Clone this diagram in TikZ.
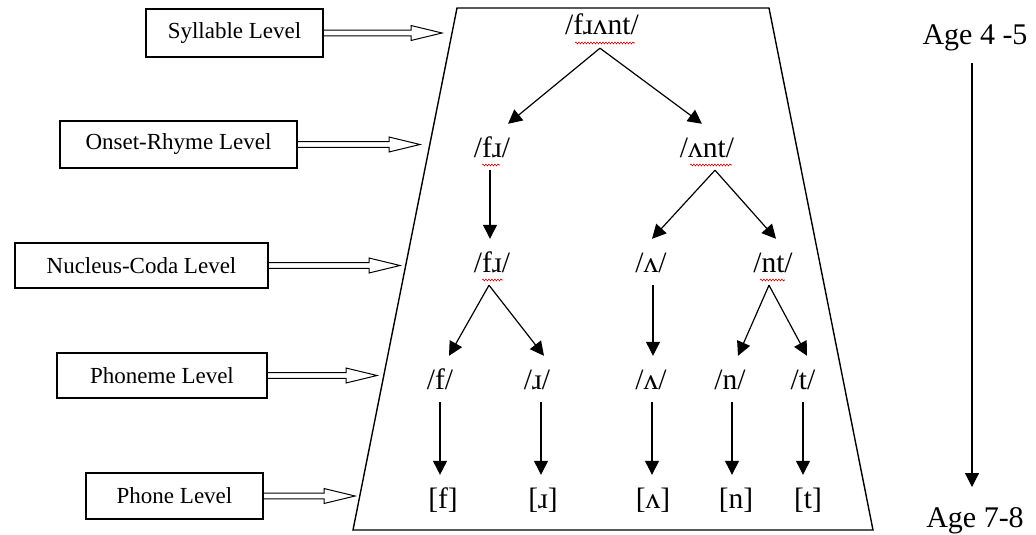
\documentclass[tikz,border=0pt]{standalone}
\usepackage{fontspec}
\setmainfont{Liberation Serif}
\usetikzlibrary{arrows.meta,calc,decorations.pathmorphing}
\begin{document}
\begin{tikzpicture}[x=1pt,y=-1pt,
  lvlbox/.style={draw, line width=1.2pt, inner sep=0pt, font=\fontsize{23}{25}\selectfont},
  tnode/.style={inner sep=0pt, anchor=base, text height=33pt, text depth=13pt, font=\fontsize{29.5}{30}\selectfont},
  agetxt/.style={inner sep=0pt, anchor=base, font=\fontsize{30}{32}\selectfont},
  tri/.style={line width=1.2pt, -{Triangle[length=14pt,width=14pt]}},
  harrow/.style={draw, line width=1pt, line join=miter},
  squig/.style={draw=red!80!black, line width=0.6pt, decorate, decoration={snake, amplitude=0.9pt, segment length=3pt}},
]
\useasboundingbox (0,0) rectangle (1036,535);

% trapezoid frame
\draw[line width=1.4pt] (457,8) -- (769,8) -- (873,530) -- (353,530) -- cycle;

% level boxes
\node[lvlbox, minimum width=177pt, minimum height=48pt] (L1) at (234.5,33) {Syllable Level};
\node[lvlbox, minimum width=237pt, minimum height=47pt] (L2) at (178.5,144.5) {Onset-Rhyme Level};
\node[lvlbox, minimum width=253pt, minimum height=45pt] (L3) at (141.5,265.5) {Nucleus-Coda Level};
\node[lvlbox, minimum width=210pt, minimum height=45pt] (L4) at (162,375.5) {Phoneme Level};
\node[lvlbox, minimum width=177pt, minimum height=46pt] (L5) at (174.5,496) {Phone Level};

\coordinate (T1) at (L1.east -| 442,0);
\coordinate (T2) at (L2.east -| 420,0);
\coordinate (T3) at (L3.east -| 400,0);
\coordinate (T4) at (L4.east -| 377,0);
\coordinate (T5) at (L5.east -| 355,0);

\foreach \b/\t in {L1/T1,L2/T2,L3/T3,L4/T4,L5/T5}{
  \draw[harrow] ([yshift=2.8pt]\b.east) -- ([xshift=-31pt,yshift=2.8pt]\t) -- ([xshift=-31pt,yshift=7.5pt]\t) -- (\t)
     -- ([xshift=-31pt,yshift=-7.5pt]\t) -- ([xshift=-31pt,yshift=-2.8pt]\t) -- ([yshift=-2.8pt]\b.east);
}

% tree nodes
\node[tnode] (n1) at (602,35) {/fɹʌnt/};
\node[tnode] (n2a) at (492,157) {/fɹ/};
\node[tnode] (n2b) at (707,157) {/ʌnt/};
\node[tnode] (n3a) at (492,272) {/fɹ/};
\node[tnode] (n3b) at (651,272) {/ʌ/};
\node[tnode] (n3c) at (773,272) {/nt/};
\node[tnode] (n4a) at (440,389) {/f/};
\node[tnode] (n4b) at (537,389) {/ɹ/};
\node[tnode] (n4c) at (651,389) {/ʌ/};
\node[tnode] (n4d) at (730,389) {/n/};
\node[tnode] (n4e) at (803,389) {/t/};
\node[tnode] (n5a) at (443,508) {[f]};
\node[tnode] (n5b) at (543,508) {[ɹ]};
\node[tnode] (n5c) at (653,508) {[ʌ]};
\node[tnode] (n5d) at (736,508) {[n]};
\node[tnode] (n5e) at (808,508) {[t]};

% spell-check squiggles
\draw[squig] ([xshift=-27pt,yshift=-8pt]n1.base) -- ([xshift=33pt,yshift=-8pt]n1.base);
\draw[squig] ([xshift=-10pt,yshift=-8pt]n2a.base) -- ([xshift=8pt,yshift=-8pt]n2a.base);
\draw[squig] ([xshift=-17pt,yshift=-8pt]n2b.base) -- ([xshift=25pt,yshift=-8pt]n2b.base);
\draw[squig] ([xshift=-10pt,yshift=-8pt]n3a.base) -- ([xshift=11pt,yshift=-8pt]n3a.base);
\draw[squig] ([xshift=-13pt,yshift=-8pt]n3c.base) -- ([xshift=12pt,yshift=-8pt]n3c.base);

% tree connectors
\draw[tri] ([xshift=-2pt]n1.south) -- ([xshift=16pt]n2a.north);
\draw[tri] ([xshift=-2pt]n1.south) -- ([xshift=-5pt]n2b.north);
\draw[tri] ([xshift=-2pt]n2a.south) -- ([xshift=-2pt]n3a.north);
\draw[tri] ([xshift=8pt]n2b.south) -- ([xshift=1pt]n3b.north);
\draw[tri] ([xshift=8pt]n2b.south) -- ([xshift=3pt]n3c.north);
\draw[tri] ([xshift=-3pt]n3a.south) -- ([xshift=9pt]n4a.north);
\draw[tri] ([xshift=-3pt]n3a.south) -- ([xshift=7pt]n4b.north);
\draw[tri] ([xshift=2pt]n3b.south) -- ([xshift=2pt]n4c.north);
\draw[tri] ([xshift=-4pt]n3c.south) -- ([xshift=8pt]n4d.north);
\draw[tri] ([xshift=-4pt]n3c.south) -- ([xshift=4pt]n4e.north);
\draw[tri] (n4a.south) -- (n4a.south |- n5a.north);
\draw[tri] ([xshift=4pt]n4b.south) -- ([xshift=4pt]n4b.south |- n5b.north);
\draw[tri] ([xshift=1pt]n4c.south) -- ([xshift=1pt]n4c.south |- n5c.north);
\draw[tri] ([xshift=2pt]n4d.south) -- ([xshift=2pt]n4d.south |- n5d.north);
\draw[tri] (n4e.south) -- (n4e.south |- n5e.north);

% age axis
\node[agetxt] (A1) at (975,45) {Age 4 -5};
\node[agetxt] (A2) at (975,527) {Age 7-8};
\draw[tri] ([xshift=-3pt,yshift=-18pt]A1.base) -- ([xshift=-3pt,yshift=40pt]A2.base);
\end{tikzpicture}
\end{document}
